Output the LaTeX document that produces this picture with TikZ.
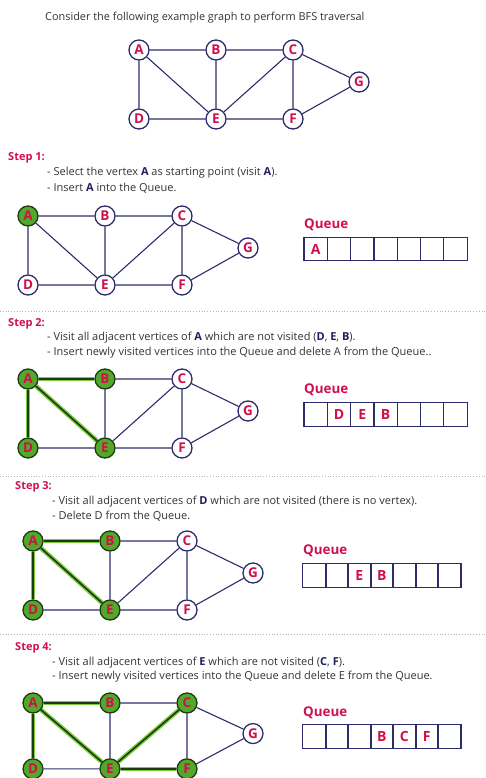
\documentclass[tikz,border=0pt]{standalone}
\usepackage{fontspec}
\setmainfont{Open Sans}
\usetikzlibrary{backgrounds}

\definecolor{vred}{HTML}{D0104C}
\definecolor{enavy}{HTML}{2C2C6C}
\definecolor{tnavy}{HTML}{1F2060}
\definecolor{vgreen}{HTML}{52A82A}
\definecolor{tgreen}{HTML}{7ACC3C}
\definecolor{dgreen}{HTML}{1E3A12}
\definecolor{txt}{HTML}{333333}

\newcommand{\hl}[1]{{\bfseries\color{tnavy}#1}}

% one copy of the example graph, node names get the suffix #1
\newcommand{\bfsgraph}[1]{%
    \node[vertex,stA] (A#1) at (0,0) {A};
    \node[vertex,stB] (B#1) at (77,0) {B};
    \node[vertex,stC] (C#1) at (154,0) {C};
    \node[vertex,stG] (G#1) at (220,32) {G};
    \node[vertex,stD] (D#1) at (0,69) {D};
    \node[vertex,stE] (E#1) at (77,69) {E};
    \node[vertex,stF] (F#1) at (154,69) {F};
    \begin{scope}[on background layer]
        \draw[edge] (A#1) -- (B#1) -- (C#1) -- (G#1) -- (F#1) -- (E#1) -- (D#1) -- (A#1);
        \draw[edge] (A#1) -- (E#1) -- (B#1);
        \draw[edge] (E#1) -- (C#1) -- (F#1);
    \end{scope}
}

\begin{document}
\begin{tikzpicture}[x=1pt, y=-1pt,
        vertex/.style={circle, draw=enavy, fill=white, line width=1.3pt, minimum size=20pt, inner sep=0pt, text=vred, font=\fontsize{13.5}{13.5}\selectfont\bfseries},
        visited/.style={fill=vgreen, draw=dgreen},
        stA/.style={}, stB/.style={}, stC/.style={}, stD/.style={}, stE/.style={}, stF/.style={}, stG/.style={},
        edge/.style={draw=enavy, line width=1.1pt},
        tree/.style={draw=tgreen, line width=4.5pt, postaction={draw=dgreen, line width=1.6pt}},
        cell/.style={rectangle, draw=enavy, line width=1.2pt, minimum width=23.3pt, minimum height=23.5pt, inner sep=0pt, text=vred, font=\fontsize{14}{14}\selectfont\bfseries},
        qlabel/.style={anchor=west, inner sep=0pt, text=vred, font=\fontsize{13.4}{14}\selectfont\bfseries},
        steplabel/.style={anchor=west, inner sep=0pt, text=vred, font=\fontsize{11}{11}\selectfont\bfseries},
        info/.style={anchor=west, inner sep=0pt, text=txt, font=\fontsize{11}{11}\selectfont},
        sep/.style={draw=black!30, dotted, line width=0.8pt}
    ]
    \useasboundingbox (0,0) rectangle (486,778);
    \clip (0,0) rectangle (486,778);

    % Example graph
    \node[info, font=\fontsize{10.9}{11}\selectfont] (title) at (45,18) {Consider the following example graph to perform BFS traversal};
    \begin{scope}[shift={(139,50)}]
        \bfsgraph{0}
    \end{scope}

    % Step 1
    \node[steplabel] (s1) at (8,158) {Step 1:};
    \node[info] (s1a) at (47,173) {- Select the vertex \hl{A} as starting point (visit \hl{A}).};
    \node[info] (s1b) at (47,188) {- Insert \hl{A} into the Queue.};
    \begin{scope}[shift={(28,216)}, stA/.style=visited]
        \bfsgraph{1}
    \end{scope}
    \node[qlabel] (q1) at (304,225) {Queue};
    \foreach \i/\t in {1/A,2/,3/,4/,5/,6/,7/}
        \node[cell] (q1-\i) at ({304+23.3*(\i-0.5)},249) {\t};

    \draw[sep] (0,311) -- (486,311);

    % Step 2
    \node[steplabel] (s2) at (8,324) {Step 2:};
    \node[info] (s2a) at (47,338) {- Visit all adjacent vertices of \hl{A} which are not visited (\hl{D}, \hl{E}, \hl{B}).};
    \node[info] (s2b) at (47,353) {- Insert newly visited vertices into the Queue and delete A from the Queue..};
    \begin{scope}[shift={(28,379)}, stA/.style=visited, stB/.style=visited, stD/.style=visited, stE/.style=visited]
        \bfsgraph{2}
        \begin{scope}[on background layer]
            \draw[tree] (A2) -- (B2);
            \draw[tree] (A2) -- (D2);
            \draw[tree] (A2) -- (E2);
        \end{scope}
    \end{scope}
    \node[qlabel] (q2) at (304,390) {Queue};
    \foreach \i/\t in {1/,2/D,3/E,4/B,5/,6/,7/}
        \node[cell] (q2-\i) at ({304+23.3*(\i-0.5)},414.5) {\t};

    \draw[sep] (0,476) -- (486,476);

    % Step 3
    \node[steplabel] (s3) at (15,487) {Step 3:};
    \node[info] (s3a) at (52,502) {- Visit all adjacent vertices of \hl{D} which are not visited (there is no vertex).};
    \node[info] (s3b) at (52,516) {- Delete D from the Queue.};
    \begin{scope}[shift={(33,541)}, stA/.style=visited, stB/.style=visited, stD/.style=visited, stE/.style=visited]
        \bfsgraph{3}
        \begin{scope}[on background layer]
            \draw[tree] (A3) -- (B3);
            \draw[tree] (A3) -- (D3);
            \draw[tree] (A3) -- (E3);
        \end{scope}
    \end{scope}
    \node[qlabel] (q3) at (303,551) {Queue};
    \foreach \i/\t in {1/,2/,3/E,4/B,5/,6/,7/}
        \node[cell] (q3-\i) at ({303+22.5*(\i-0.5)},575.5) {\t};

    \draw[sep] (0,634) -- (486,634);

    % Step 4
    \node[steplabel] (s4) at (15,648) {Step 4:};
    \node[info] (s4a) at (52,663) {- Visit all adjacent vertices of \hl{E} which are not visited (\hl{C}, \hl{F}).};
    \node[info] (s4b) at (52,677) {- Insert newly visited vertices into the Queue and delete E from the Queue.};
    \begin{scope}[shift={(33,703)}, yscale=0.955, stA/.style=visited, stB/.style=visited, stC/.style=visited, stD/.style=visited, stE/.style=visited, stF/.style=visited]
        \bfsgraph{4}
        \begin{scope}[on background layer]
            \draw[tree] (A4) -- (B4);
            \draw[tree] (A4) -- (D4);
            \draw[tree] (A4) -- (E4);
            \draw[tree] (E4) -- (C4);
            \draw[tree] (E4) -- (F4);
        \end{scope}
    \end{scope}
    \node[qlabel] (q4) at (303,713) {Queue};
    \foreach \i/\t in {1/,2/,3/,4/B,5/C,6/F,7/}
        \node[cell] (q4-\i) at ({303+22.5*(\i-0.5)},736.5) {\t};
\end{tikzpicture}
\end{document}
